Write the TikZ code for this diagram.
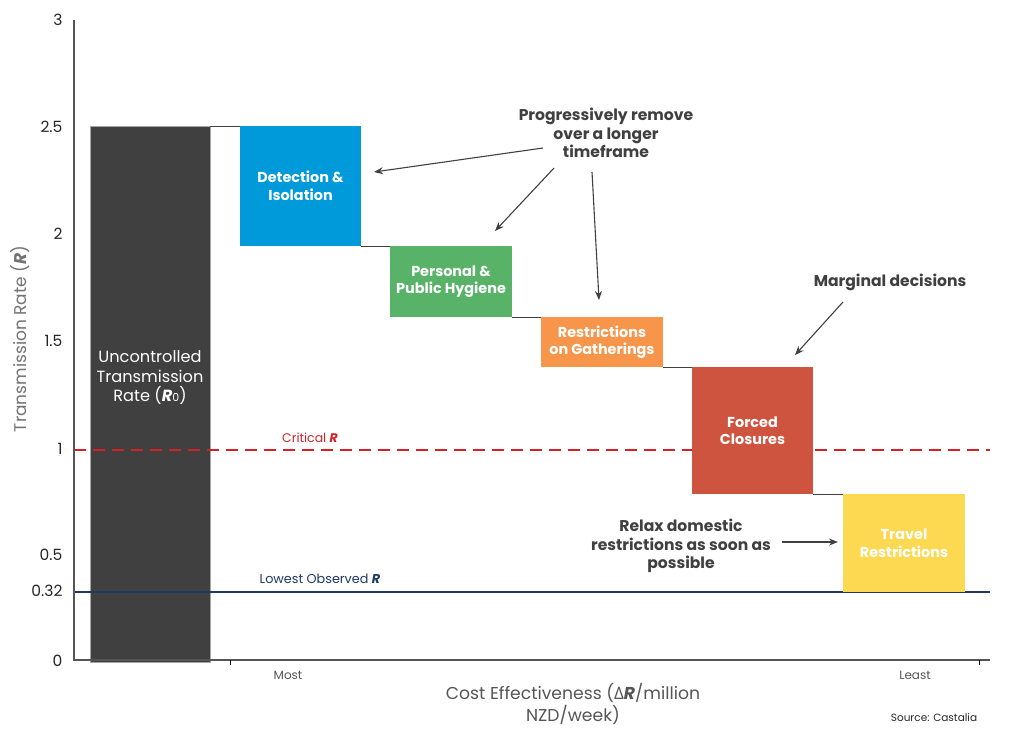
\documentclass[tikz,border=0pt]{standalone}
\usepackage{fontspec}
\setmainfont{Poppins}
\newfontfamily\gkfont{Open Sans}
\usetikzlibrary{arrows.meta}
\definecolor{cdark}{HTML}{404040}
\definecolor{cblue}{HTML}{0099DA}
\definecolor{cgreen}{HTML}{58B368}
\definecolor{corange}{HTML}{F7964A}
\definecolor{cred}{HTML}{CE5440}
\definecolor{cyellow}{HTML}{FDD851}
\definecolor{ccrit}{HTML}{D42027}
\definecolor{cnavy}{HTML}{1F3864}
\definecolor{caxis}{HTML}{555555}
\definecolor{ctext}{HTML}{404040}
\begin{document}
\begin{tikzpicture}[x=1pt,y=-1pt,
  bar/.style={anchor=north west,inner sep=0pt,outer sep=0pt,text=white,align=center,
     font=\fontsize{14.4}{17.5}\selectfont\bfseries},
  stepline/.style={draw=cdark,line width=0.8pt},
  ticklab/.style={anchor=east,text=black!85,font=\fontsize{15.5}{18}\selectfont},
  note/.style={align=center,text=ctext,font=\fontsize{15.6}{18.5}\selectfont\bfseries},
  noteArrow/.style={draw=ctext,line width=1.1pt,-{Stealth[length=9pt,width=7pt]}},
  small/.style={text=caxis,font=\fontsize{12}{14}\selectfont}]
\useasboundingbox (0,0) rectangle (1030,736);
% dark bar
\node[bar,fill=cdark,draw=black!35,line width=0.6pt,minimum width=120pt,minimum height=536pt] (unc) at (90,126) {};
\node[text=white,align=center,font=\fontsize{16.2}{19.5}\selectfont] (unclab) at (150,378)
  {Uncontrolled\\Transmission\\Rate (\textbf{\itshape R}{\fontsize{11}{12}\selectfont 0})};
% reference lines
\coordinate (critA) at (74,450);
\coordinate (critB) at (990,450);
\coordinate (lowA) at (74,592);
\coordinate (lowB) at (990,592);
\draw[ccrit,line width=2.5pt,dash pattern=on 12pt off 7pt] (critA) -- (critB);
\draw[cnavy,line width=2pt] (lowA) -- (lowB);
% boxes
\node[bar,fill=cblue,minimum width=121pt,minimum height=120pt] (det) at (240,126) {Detection \&\\Isolation};
\node[bar,fill=cgreen,minimum width=122pt,minimum height=71pt] (hyg) at (390,246) {Personal \&\\Public Hygiene};
\node[bar,fill=corange,minimum width=122pt,minimum height=50pt] (gat) at (541,317) {Restrictions\\on Gatherings};
\node[bar,fill=cred,minimum width=121pt,minimum height=127pt] (clo) at (692,367) {Forced\\Closures};
\node[bar,fill=cyellow,minimum width=122pt,minimum height=98pt] (trv) at (843,494) {Travel\\Restrictions};
\draw[stepline] (unc.north east) -- (det.north west);
\draw[stepline] (det.south east) -- (hyg.north west);
\draw[stepline] (hyg.south east) -- (gat.north west);
\draw[stepline] (gat.south east) -- (clo.north west);
\draw[stepline] (clo.south east) -- (trv.north west);
% axes
\coordinate (orig) at (74,660);
\coordinate (ytop) at (74,20);
\coordinate (xend) at (990,660);
\draw[caxis,line width=1.2pt] (ytop) -- (orig) -- (xend);
\coordinate (tkA) at (230,660); \coordinate (tkAb) at (230,665);
\coordinate (tkB) at (979,660); \coordinate (tkBb) at (979,665);
\draw[black,line width=1pt] (tkA) -- (tkAb);
\draw[black,line width=1pt] (tkB) -- (tkBb);
% tick labels
\node[ticklab] (t3) at (66,20) {3};
\node[ticklab] (t25) at (66,127) {2.5};
\node[ticklab] (t2) at (66,234) {2};
\node[ticklab] (t15) at (66,341) {1.5};
\node[ticklab] (t1) at (66,449) {1};
\node[ticklab] (t05) at (66,555) {0.5};
\node[ticklab] (t032) at (66,591) {0.32};
\node[ticklab] (t0) at (66,661) {0};
% axis labels
\node[small] (most) at (288,675) {Most};
\node[small] (least) at (915,675) {Least};
\node[text=caxis,align=center,font=\fontsize{17.2}{22}\selectfont] (xtitle) at (573,704)
  {Cost Effectiveness ({\gkfont Δ}\textbf{\itshape R}/million\\NZD/week)};
\node[text=black!85,font=\fontsize{10.5}{12}\selectfont] (src) at (934,718) {Source: Castalia};
\node[text=black!55,rotate=90,font=\fontsize{17}{18}\selectfont] (ytitle) at (20,339)
  {Transmission Rate (\textbf{\itshape R})};
\node[text=ccrit,font=\fontsize{12.5}{14}\selectfont] (critlab) at (310,438) {Critical \textbf{\itshape R}};
\node[text=cnavy,font=\fontsize{12.8}{14}\selectfont] (lowlab) at (320,579) {Lowest Observed \textbf{\itshape R}};
% annotations
\node[note] (prog) at (606,133) {Progressively remove\\over a longer\\timeframe};
\node[note] (marg) at (890,282) {Marginal decisions};
\node[note] (relax) at (681,546) {Relax domestic\\restrictions as soon as\\possible};
\coordinate (p1s) at (543,148); \coordinate (p1e) at (374,172);
\coordinate (p2s) at (554,168); \coordinate (p2e) at (495,231);
\coordinate (p3s) at (592,172); \coordinate (p3e) at (599,300);
\coordinate (ms) at (843,302); \coordinate (me) at (795,355);
\coordinate (rs) at (782,542); \coordinate (re) at (838,542);
\draw[noteArrow] (p1s) -- (p1e);
\draw[noteArrow] (p2s) -- (p2e);
\draw[noteArrow] (p3s) -- (p3e);
\draw[noteArrow] (ms) -- (me);
\draw[noteArrow] (rs) -- (re);
\end{tikzpicture}
\end{document}
